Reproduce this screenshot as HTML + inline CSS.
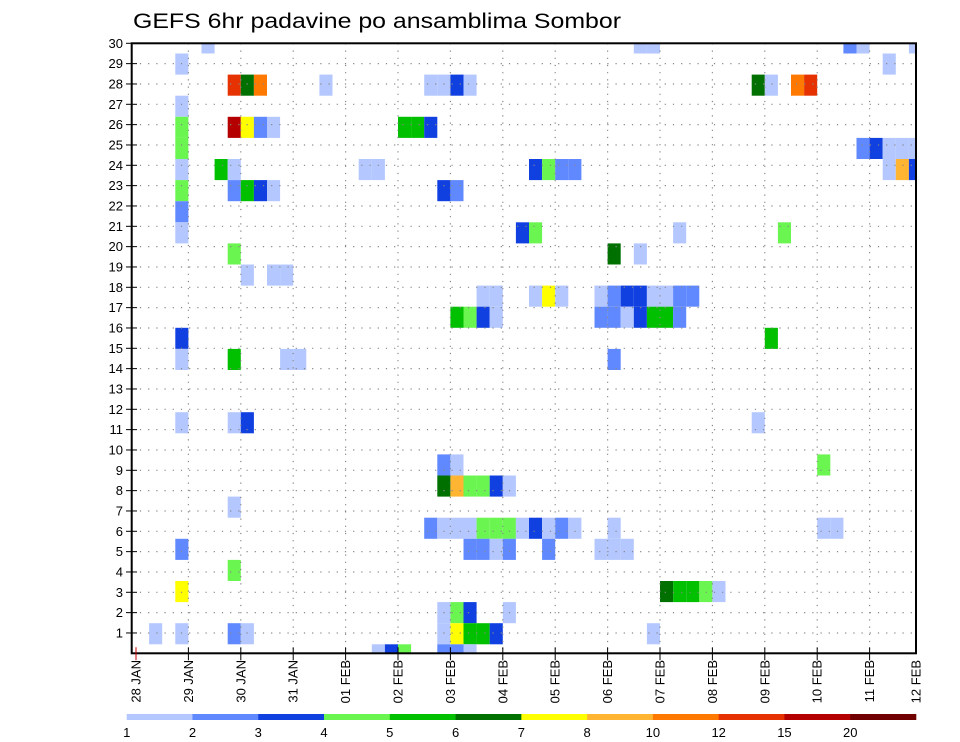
<!DOCTYPE html>
<html><head><meta charset="utf-8"><title>GEFS 6hr padavine</title>
<style>
html,body{margin:0;padding:0;background:#fff;}
svg{display:block;font-family:"Liberation Sans",sans-serif;}
</style></head>
<body>
<svg id="chart" width="960" height="742" viewBox="0 0 960 742" xmlns="http://www.w3.org/2000/svg">
<defs><clipPath id="plotclip"><rect x="131.7" y="43.3" width="784.3" height="610"/></clipPath></defs>
<text x="133" y="28" font-size="21" textLength="488" lengthAdjust="spacingAndGlyphs" fill="#000">GEFS 6hr padavine po ansamblima Sombor</text>
<g id="cells" clip-path="url(#plotclip)"></g>
<g id="grid"></g>
<g id="axes"></g>
<g id="cbar"></g>
</svg>
<script>
// 6-hour step index from 28 JAN 00z
const cellTimes   = [5,38,39,54,55,59, 3,57, 7,8,9,14,22,23,24,25,47,48,50,51, 3, 3,7,8,9,10,20,21,22, 3,55,56,57,58,59, 3,6,7,17,18,30,31,32,33,57,58,59, 3,7,8,9,10,23,24, 3, 3,29,30,41,49, 7,36,38, 8,10,11, 26,27,30,31,32,35,36,37,38,39,40,41,42, 24,25,26,27,35,36,37,38,39,40,41, 3,48, 3,7,11,12,36, 3,7,8,47, 23,24,52, 23,24,25,26,27,28, 7, 22,23,24,25,26,27,28,29,30,31,32,33,36,52,53, 3,25,26,27,28,31,35,36,37, 7, 3,40,41,42,43,44, 23,24,25,28, 1,3,7,8,23,24,25,26,27,39, 18,19,20,23,24,25];
const cellMembers = [29,29,29,29,29,29, 28,28, 27,27,27,27,27,27,27,27,27,27,27,27, 26, 25,25,25,25,25,25,25,25, 24,24,24,24,24,24, 23,23,23,23,23,23,23,23,23,23,23,23, 22,22,22,22,22,22,22, 21, 20,20,20,20,20, 19,19,19, 18,18,18, 17,17,17,17,17,17,17,17,17,17,17,17,17, 16,16,16,16,16,16,16,16,16,16,16, 15,15, 14,14,14,14,14, 11,11,11,11, 9,9,9, 8,8,8,8,8,8, 7, 6,6,6,6,6,6,6,6,6,6,6,6,6,6,6, 5,5,5,5,5,5,5,5,5, 4, 3,3,3,3,3,3, 2,2,2,2, 1,1,1,1,1,1,1,1,1,1, 0,0,0,0,0,0];
const cellClasses = [0,0,0,1,0,0, 0,0, 9,5,8,0,0,0,2,0,5,0,8,9, 0, 3,10,6,1,0,4,4,2, 3,1,2,0,0,0, 0,4,0,0,0,2,3,1,1,0,7,2, 3,1,4,2,0,2,1, 1, 0,2,3,0,3, 3,5,0, 0,0,0, 0,0,0,6,0,0,1,2,2,0,0,1,1, 4,3,2,0,1,1,0,2,4,4,1, 2,4, 0,4,0,0,1, 0,0,2,0, 1,0,3, 5,7,3,3,2,0, 0, 1,0,0,0,3,3,3,0,2,0,1,0,0,0,0, 1,1,1,0,1,1,0,0,0, 3, 6,5,4,4,3,0, 0,3,2,0, 0,0,1,0,0,6,4,4,2,0, 0,2,3,1,1,0];
const classColors = ["#b4c8ff","#6088ff","#1040e0","#6af550","#00c000","#007000","#ffff00","#ffb432","#ff7800","#e63200","#b40000","#700000"];
const levelLabels = ["1","2","3","4","5","6","7","8","10","12","15","20"];
const yTickLabels = ["1","2","3","4","5","6","7","8","9","10","11","12","13","14","15","16","17","18","19","20","21","22","23","24","25","26","27","28","29","30"];
const dayNums = ["28","29","30","31","01","02","03","04","05","06","07","08","09","10","11","12"];
const dayMonths = ["JAN","JAN","JAN","JAN","FEB","FEB","FEB","FEB","FEB","FEB","FEB","FEB","FEB","FEB","FEB","FEB"];

const NS="http://www.w3.org/2000/svg";
const L=131.7,R=916,T=43.3,B=653.3;
const STEP=13.1;
function xT(k){return 136+STEP*k;}
function xDay(d){return Math.min(136+STEP*4*d,R);}
function yCellTop(m){return 644.3-21.1*m;}
function yLab(r){return B-(B-T)/30*r;}
function mk(tag,attrs,parent){const e=document.createElementNS(NS,tag);for(const a in attrs)e.setAttribute(a,attrs[a]);parent.appendChild(e);return e;}

const gc=document.getElementById('cells');
for(let i=0;i<cellTimes.length;i++){
  const r=mk('rect',{x:xT(cellTimes[i]),y:yCellTop(cellMembers[i]),width:STEP,height:21.1,fill:classColors[cellClasses[i]]},gc);
  
  
}
const gg=document.getElementById('grid');
for(let r=1;r<30;r++){
  const l=mk('line',{x1:L,x2:R,y1:yLab(r),y2:yLab(r),stroke:"#888","stroke-width":1.2,"stroke-dasharray":"1.2,7"},gg);
  
  
}
for(let d=1;d<15;d++){
  const l=mk('line',{x1:xDay(d),x2:xDay(d),y1:T,y2:B,stroke:"#888","stroke-width":1.2,"stroke-dasharray":"1.2,6"},gg);
  
  
}
const ga=document.getElementById('axes');
const fr=mk('rect',{x:L,y:T,width:R-L,height:B-T,fill:"none",stroke:"#000","stroke-width":2},ga);


for(let r=1;r<=30;r++){
  const y=yLab(r);
  const t=mk('line',{x1:126,x2:137,y1:y,y2:y,stroke:"#000","stroke-width":1},ga);
  
  
  const tx=mk('text',{x:123,y:y+4.5,"font-size":13,"text-anchor":"end",fill:"#000"},ga);
  tx.textContent=yTickLabels[r-1];
  
  
}
for(let d=0;d<dayNums.length;d++){
  const x=xDay(d);
  if(d<15){
    const t=mk('line',{x1:x,x2:x,y1:B-6,y2:B+7,stroke:d==0?"#c00":"#000","stroke-width":1},ga);
    
    
  }
  const tx=mk('text',{x:0,y:0,"font-size":13,"text-anchor":"end",fill:"#000",transform:"translate("+(x+4.5)+",660) rotate(-90)"},ga);
  tx.textContent=dayNums[d]+"  "+dayMonths[d];
  tx.setAttribute('xml:space','preserve');
  
  
}
const gb=document.getElementById('cbar');
const cbL=126.7,cbR=916,cbW=(cbR-cbL)/classColors.length;
for(let i=0;i<classColors.length;i++){
  const r=mk('rect',{x:cbL+i*cbW,y:714,width:cbW+0.3,height:6,fill:classColors[i]},gb);
  
  
  const t=mk('text',{x:cbL+i*cbW,y:737,"font-size":13,"text-anchor":"middle",fill:"#000"},gb);
  t.textContent=levelLabels[i];
  
  
}
</script>
</body></html>
